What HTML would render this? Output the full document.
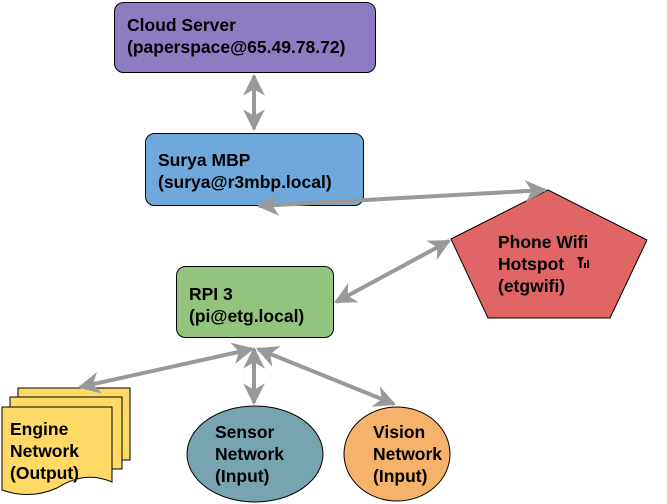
<!DOCTYPE html>
<html><head><style>body{margin:0;background:#fff}svg{display:block}text{font-family:"Liberation Sans",Arial,sans-serif;font-weight:bold;font-size:17.5px;fill:#000}</style></head><body>
<svg width="667" height="504" viewBox="0 0 667 504" xmlns="http://www.w3.org/2000/svg">
<defs><marker id="a" viewBox="0 0 10 10" refX="9" refY="5" markerWidth="5.5" markerHeight="5.5" orient="auto-start-reverse" markerUnits="strokeWidth"><path d="M0,0 L10,5 L0,10 L3,5 z" fill="#999"/></marker></defs>
<g stroke="#000" stroke-width="1">
<rect x="114.5" y="2.5" width="261" height="70" rx="9" fill="#8e7cc3"/>
<rect x="145.5" y="133.5" width="218" height="72" rx="9" fill="#6fa8dc"/>
<rect x="176.5" y="266.5" width="157" height="71" rx="9" fill="#93c47d"/>
<polygon points="548,190 647,240 610,318 488,318 451,239" fill="#e06666"/>
<path d="M18,388 H130 V460 H18 Z" fill="#ffd966"/>
<path d="M10,397 H122 V469 H10 Z" fill="#ffd966"/>
<path d="M2,407 H112 V482 Q85,470 57,488 Q30,500 2,490 Z" fill="#ffd966"/>
<ellipse cx="255" cy="454" rx="68" ry="48" fill="#76a5af"/>
<ellipse cx="397" cy="454" rx="53" ry="47" fill="#f6b26b"/>
</g>
<g stroke="#999" stroke-width="4" fill="none" marker-start="url(#a)" marker-end="url(#a)">
<line x1="254" y1="76" x2="254" y2="129"/>
<line x1="259" y1="206" x2="545" y2="190"/>
<line x1="449" y1="241" x2="336" y2="302"/>
<line x1="252" y1="349" x2="80" y2="387"/>
<line x1="254" y1="349" x2="254" y2="403"/>
<line x1="258" y1="349" x2="394" y2="404"/>
</g>
<text x="127" y="31">Cloud Server</text><text x="127" y="53">(paperspace@65.49.78.72)</text>
<text x="158" y="166">Surya MBP</text><text x="158" y="188">(surya@r3mbp.local)</text>
<text x="189" y="300">RPI 3</text><text x="189" y="322">(pi@etg.local)</text>
<text x="498" y="248">Phone Wifi</text><text x="498" y="270">Hotspot</text><text x="498" y="292">(etgwifi)</text>
<g fill="#000"><path d="M577,257 h7 l-2.5,4 v7 h-2 v-7 z"/><rect x="584" y="263" width="2" height="5"/><rect x="587" y="260" width="2" height="8"/></g>
<text x="10" y="435">Engine</text><text x="10" y="457">Network</text><text x="10" y="479">(Output)</text>
<text x="215" y="438">Sensor</text><text x="215" y="460">Network</text><text x="215" y="482">(Input)</text>
<text x="373" y="438">Vision</text><text x="373" y="460">Network</text><text x="373" y="482">(Input)</text>
</svg>
</body></html>
